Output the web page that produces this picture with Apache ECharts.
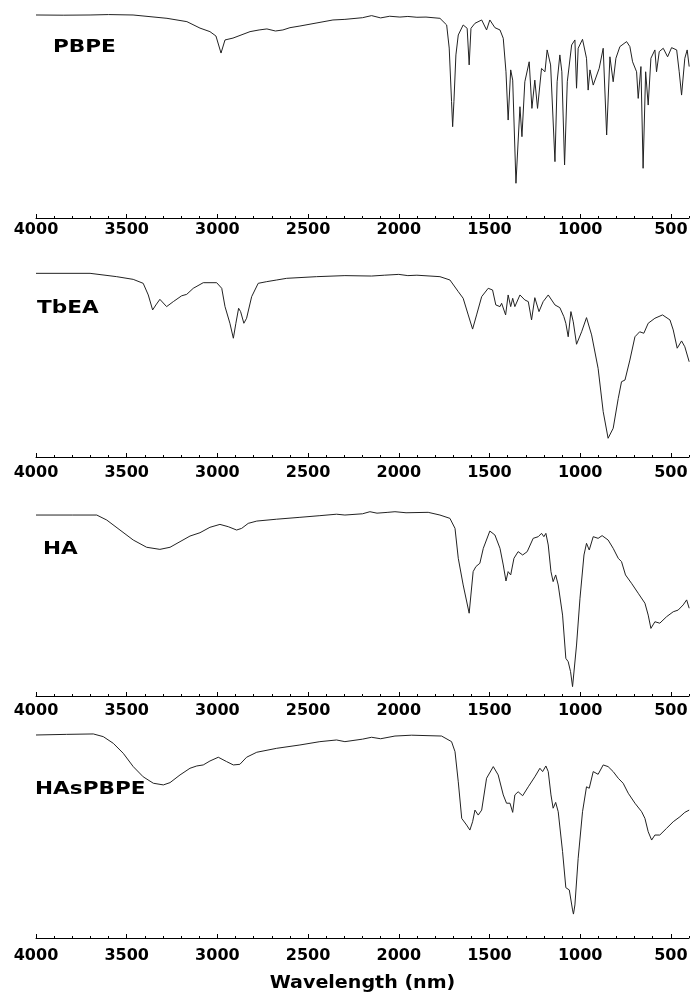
<!DOCTYPE html>
<html><head><meta charset="utf-8">
<script src="https://cdn.jsdelivr.net/npm/echarts@6/dist/echarts.min.js"></script>
<style>html,body{margin:0;padding:0;background:#fff}#c{width:690px;height:992px}</style>
</head><body><div id="c"></div>
<script>
const panelNames = ['PBPE', 'TbEA', 'HA', 'HAsPBPE'];
const xTitle = 'Wavelength (nm)';
const majorTicks = [500, 1000, 1500, 2000, 2500, 3000, 3500, 4000];
const minorTicks = [400,500,600,700,800,900,1000,1100,1200,1300,1400,1500,1600,1700,1800,1900,2000,2100,2200,2300,2400,2500,2600,2700,2800,2900,3000,3100,3200,3300,3400,3500,3600,3700,3800,3900,4000];

// [wavenumber, relative transmittance]
const pbpeSpectrum = [[4000,97.6],[3850,97.5],[3702,97.6],[3600,97.8],[3465,97.6],[3278,96.0],[3168,94.4],[3096,91.3],[3041,89.6],[3008,87.5],[2980,79.3],[2958,85.6],[2914,86.5],[2820,89.6],[2770,90.4],[2727,90.9],[2680,89.9],[2639,90.4],[2600,91.5],[2545,92.3],[2451,93.8],[2363,95.2],[2297,95.5],[2200,96.3],[2150,97.3],[2100,96.2],[2050,97.0],[1994,96.6],[1950,96.9],[1900,96.5],[1850,96.6],[1773,96.0],[1736,92.8],[1722,81.7],[1709,55.9],[1703,43.9],[1696,55.9],[1685,78.4],[1672,88.0],[1645,92.8],[1623,91.2],[1612,73.6],[1602,91.2],[1580,93.6],[1543,95.2],[1516,90.4],[1498,95.2],[1470,91.5],[1442,90.4],[1424,86.4],[1409,70.3],[1397,47.1],[1383,71.2],[1372,66.3],[1354,16.7],[1343,35.1],[1332,53.5],[1321,39.1],[1305,65.5],[1281,75.1],[1266,52.7],[1250,66.3],[1235,52.7],[1213,71.9],[1194,70.3],[1182,80.8],[1163,73.6],[1139,27.1],[1127,65.5],[1112,78.4],[1101,70.3],[1086,25.5],[1071,65.5],[1047,83.2],[1029,85.6],[1020,62.4],[1011,81.6],[987,85.9],[965,76.8],[956,61.5],[946,71.2],[928,63.9],[895,72.0],[873,81.6],[854,39.9],[836,77.5],[818,65.5],[803,76.8],[781,82.4],[744,84.8],[726,82.4],[711,75.1],[689,70.3],[680,57.5],[665,72.8],[653,23.9],[639,70.3],[625,54.3],[610,76.8],[588,80.8],[579,70.3],[564,80.0],[542,81.6],[518,77.5],[496,81.9],[468,80.8],[454,70.3],[441,59.1],[423,76.8],[410,80.8],[399,72.8]];

const tbeaSpectrum = [[4000,88.3],[3702,88.3],[3555,86.7],[3464,85.4],[3409,83.5],[3381,77.9],[3357,70.7],[3339,73.1],[3317,75.8],[3280,72.3],[3243,74.7],[3197,77.5],[3169,78.2],[3133,81.1],[3078,83.8],[3004,83.8],[2976,81.1],[2958,72.3],[2931,64.3],[2912,57.1],[2898,64.3],[2883,71.5],[2872,69.9],[2854,64.3],[2839,66.7],[2811,77.1],[2775,83.5],[2728,84.3],[2673,85.1],[2618,85.9],[2453,86.7],[2297,87.2],[2150,87.0],[2080,87.4],[2000,87.8],[1950,87.2],[1900,87.4],[1773,86.7],[1718,85.1],[1672,79.5],[1645,76.3],[1617,68.3],[1593,61.5],[1571,68.3],[1543,77.1],[1507,81.1],[1483,80.3],[1465,73.1],[1442,72.3],[1433,73.9],[1411,68.3],[1397,77.9],[1383,72.3],[1372,76.3],[1360,72.3],[1332,77.9],[1305,75.5],[1286,74.7],[1268,65.9],[1250,76.6],[1227,69.9],[1204,74.7],[1176,77.9],[1139,73.1],[1112,71.8],[1090,67.5],[1079,64.3],[1066,57.8],[1051,69.9],[1038,65.0],[1020,54.2],[992,60.2],[965,67.0],[937,58.7],[901,42.6],[873,21.8],[846,9.0],[818,13.8],[790,28.2],[772,36.2],[753,37.0],[726,46.6],[698,57.8],[672,60.2],[649,59.5],[625,64.3],[588,66.7],[546,68.3],[505,65.9],[487,61.1],[465,52.3],[441,55.8],[423,53.0],[399,45.8]];

const haSpectrum = [[4000,87.0],[3800,87.0],[3665,87.0],[3610,84.6],[3537,79.8],[3464,75.0],[3390,71.5],[3317,70.5],[3261,71.5],[3206,74.2],[3151,76.9],[3096,78.5],[3041,81.1],[2986,82.5],[2940,81.4],[2894,79.8],[2866,80.6],[2830,83.0],[2783,84.1],[2673,85.0],[2545,85.9],[2435,86.7],[2343,87.4],[2297,87.0],[2200,87.6],[2159,88.6],[2120,87.9],[2060,88.3],[2021,88.6],[1960,88.1],[1838,88.3],[1773,87.0],[1718,85.4],[1690,80.6],[1672,66.2],[1645,53.4],[1612,39.8],[1590,59.8],[1575,62.2],[1553,63.8],[1534,71.0],[1498,79.3],[1470,77.4],[1442,71.0],[1424,63.0],[1409,55.3],[1397,59.8],[1383,58.2],[1365,66.2],[1342,69.4],[1317,67.8],[1292,69.4],[1259,75.8],[1231,76.6],[1213,78.2],[1200,76.6],[1189,78.2],[1176,72.6],[1161,59.8],[1149,55.0],[1135,58.2],[1121,53.4],[1097,38.9],[1079,18.1],[1066,16.5],[1053,11.7],[1042,4.5],[1033,5.3],[1020,24.5],[1001,47.0],[979,67.8],[965,73.4],[950,70.2],[928,76.6],[901,75.8],[879,77.1],[846,75.0],[818,71.0],[790,66.2],[772,64.6],[750,58.2],[717,54.2],[680,49.4],[643,44.6],[625,38.9],[610,32.5],[588,35.7],[561,35.0],[524,38.1],[487,40.5],[460,41.3],[432,43.8],[413,46.2],[399,42.2]];

const haspbpeSpectrum = [[4000,97.6],[3831,97.9],[3684,98.1],[3629,96.8],[3574,93.6],[3519,88.8],[3464,82.4],[3409,77.5],[3353,74.4],[3298,73.6],[3261,74.7],[3206,78.4],[3151,81.6],[3114,82.7],[3078,83.2],[3041,85.1],[2995,86.9],[2949,84.8],[2912,83.2],[2876,83.5],[2839,86.9],[2783,89.3],[2673,91.2],[2545,92.8],[2435,94.4],[2343,95.2],[2297,94.4],[2200,95.6],[2150,96.5],[2100,95.8],[2021,97.1],[1929,97.5],[1764,97.1],[1709,94.4],[1690,89.6],[1672,75.1],[1653,57.5],[1626,54.3],[1608,51.9],[1593,55.9],[1580,61.5],[1562,59.1],[1543,61.5],[1516,76.8],[1479,82.4],[1452,78.4],[1424,68.8],[1406,64.8],[1387,64.8],[1372,60.4],[1360,68.8],[1342,70.3],[1317,68.4],[1286,72.7],[1250,77.5],[1222,81.6],[1207,80.0],[1189,82.7],[1176,80.0],[1161,68.8],[1149,62.4],[1135,65.2],[1121,60.7],[1097,41.5],[1079,24.2],[1060,23.1],[1042,13.5],[1037,11.5],[1029,15.9],[1011,38.3],[987,60.7],[965,72.7],[950,72.0],[928,80.0],[901,78.7],[873,83.2],[846,82.4],[818,80.0],[790,76.8],[763,74.4],[735,69.6],[698,64.8],[661,60.7],[643,57.5],[625,51.1],[606,47.1],[588,49.5],[561,49.5],[524,52.7],[487,55.9],[450,58.3],[423,60.4],[399,61.5]];

const spectra = [pbpeSpectrum, tbeaSpectrum, haSpectrum, haspbpeSpectrum];

// layout
const axisY = [218, 457, 696, 938];
const plotH = 208;
const labelMargin = [4, 8, 7, 10];
const nameXY = [[53, 47.5], [37, 309], [43, 550], [35, 790]];

const chart = echarts.init(document.getElementById('c'), null, { renderer: 'canvas' });
const grids = [], xAxes = [], yAxes = [], series = [], graphic = [];
spectra.forEach((s, i) => {
  grids.push({ left: 36, right: 1, top: axisY[i] - plotH, height: plotH, containLabel: false, outerBoundsMode: 'none' });
  xAxes.push({
    gridIndex: i, type: 'value', min: 400, max: 4000, inverse: true, position: 'bottom',
    axisLine: { lineStyle: { color: '#000', width: 1 } },
    axisTick: { inside: true, length: 4, customValues: majorTicks, lineStyle: { color: '#000', width: 1 } },
    axisLabel: { customValues: majorTicks, margin: labelMargin[i], color: '#000', fontFamily: 'DejaVu Sans', fontWeight: 'bold', fontSize: 16, formatter: v => String(v) },
    splitLine: { show: false }
  });
  xAxes.push({
    gridIndex: i, type: 'value', min: 400, max: 4000, inverse: true, position: 'bottom',
    axisLine: { show: false },
    axisTick: { inside: true, length: 2, customValues: minorTicks, lineStyle: { color: '#000', width: 1 } },
    axisLabel: { show: false },
    splitLine: { show: false }
  });
  yAxes.push({ gridIndex: i, type: 'value', min: 0, max: 100, show: false });
  series.push({
    type: 'line', name: panelNames[i], xAxisIndex: 2 * i, yAxisIndex: i, data: s,
    showSymbol: false, symbol: 'none', lineStyle: { color: '#222', width: 1 }
  });
  graphic.push({
    type: 'text', x: nameXY[i][0], y: nameXY[i][1], scaleX: 1.27,
    style: { text: panelNames[i], font: 'bold 17px "DejaVu Sans"', fill: '#000', textAlign: 'left', textVerticalAlign: 'middle', align: 'left', verticalAlign: 'middle' }
  });
});
graphic.push({
  type: 'text', x: 362.5, y: 983, scaleX: 1.06,
  style: { text: xTitle, font: 'bold 18px "DejaVu Sans"', fill: '#000', textAlign: 'center', textVerticalAlign: 'middle', align: 'center', verticalAlign: 'middle' }
});

chart.setOption({
  animation: false,
  backgroundColor: '#fff',
  grid: grids, xAxis: xAxes, yAxis: yAxes, series: series, graphic: graphic
});
</script></body></html>
